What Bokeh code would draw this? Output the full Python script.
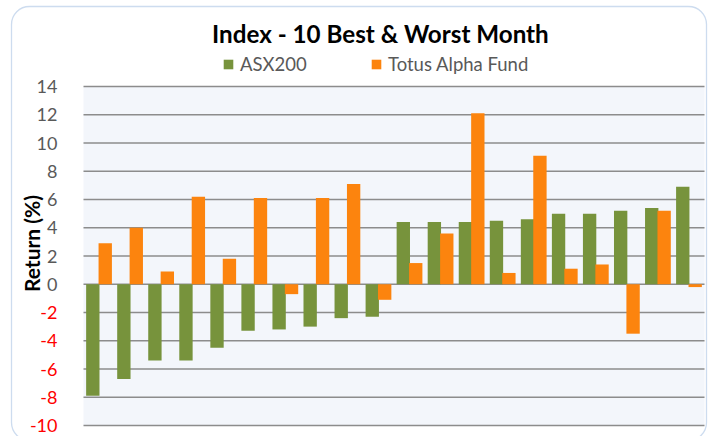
from bokeh.plotting import figure
from bokeh.models import Range1d, Legend, LegendItem, BoxAnnotation, ColumnDataSource
from bokeh.transform import dodge
from bokeh.core.properties import value
from bokeh.embed import file_html
from bokeh.resources import INLINE

# ---- data ----
months = list(range(1, 21))
asx200 = [-7.9, -6.7, -5.4, -5.4, -4.5, -3.3, -3.2, -3.0, -2.4, -2.3,
          4.4, 4.4, 4.4, 4.5, 4.6, 5.0, 5.0, 5.2, 5.4, 6.9]
totus = [2.9, 4.0, 0.9, 6.2, 1.8, 6.1, -0.7, 6.1, 7.1, -1.1,
         1.5, 3.6, 12.1, 0.8, 9.1, 1.1, 1.4, -3.5, 5.2, -0.2]
y_ticks = list(range(-10, 15, 2))
series_names = ["ASX200", "Totus Alpha Fund"]
title_text = "Index - 10 Best & Worst Month"
y_title = "Return (%)"

GREEN = "#77933C"
ORANGE = "#FC840E"
FONT = "Lato"

# ---- layout (pixels in the figure canvas) ----
W, H = 708, 436
PL, PR, PT, PB = 83, 704, 86, 425          # plot-area box
X0, X1 = 0.5, len(months) + 0.5
Y0, Y1 = min(y_ticks), max(y_ticks)
sx = (PR - PL) / (X1 - X0)
sy = (PB - PT) / (Y1 - Y0)


def px_x(px):
    return X0 + (px - PL) / sx


def px_y(py):
    return Y1 - (py - PT) / sy


p = figure(width=W, height=H, output_backend="svg", toolbar_location=None,
           x_range=Range1d(px_x(0), px_x(W)), y_range=Range1d(px_y(H), px_y(0)),
           min_border=0)
p.background_fill_color = "white"
p.border_fill_color = "white"
p.outline_line_color = None
p.xaxis.visible = False
p.yaxis.visible = False
p.xgrid.visible = False
p.ygrid.visible = False

# plot area
p.quad(left=X0, right=X1, bottom=Y0, top=Y1, fill_color="#F3F6FB", line_color=None)
# gridlines
p.segment(x0=[X0] * len(y_ticks), x1=[X1] * len(y_ticks), y0=y_ticks, y1=y_ticks,
          line_color="#8C8C8C", line_width=1.6)

src = ColumnDataSource(dict(month=months, asx=asx200, totus=totus))
r1 = p.vbar(x=dodge("month", -0.2, range=p.x_range), top="asx", bottom=0,
            width=0.43, source=src, fill_color=GREEN, line_color=None)
r2 = p.vbar(x=dodge("month", 0.2, range=p.x_range), top="totus", bottom=0,
            width=0.43, source=src, fill_color=ORANGE, line_color=None)

# y tick labels
tick_src = ColumnDataSource(dict(
    y=y_ticks, text=[str(t) for t in y_ticks],
    color=["#FF0000" if t < 0 else "#595959" for t in y_ticks]))
p.text(x=px_x(57), y="y", text="text", source=tick_src, text_color="color",
       text_align="right", text_baseline="middle",
       text_font=value(FONT), text_font_size="18px")

# axis title
p.text(x=[px_x(31)], y=[px_y(243)], text=[y_title], angle=90, angle_units="deg",
       text_align="center", text_baseline="middle",
       text_font=value(FONT), text_font_size="21px", text_font_style="bold",
       text_color="black")

# chart title
p.text(x=[px_x(380)], y=[px_y(33)], text=[title_text],
       text_align="center", text_baseline="middle",
       text_font=value(FONT), text_font_size="24.2px", text_font_style="bold",
       text_color="black")

# legends
for rend, name, xpos in [(r1, series_names[0], 222), (r2, series_names[1], 370)]:
    lg = Legend(items=[LegendItem(label=name, renderers=[rend])],
                location=(xpos, H - 75), orientation="horizontal",
                padding=0, margin=0, spacing=0,
                glyph_width=12, glyph_height=12, label_height=20,
                label_standoff=6, label_text_font=FONT,
                label_text_font_size="18.5px", label_text_color="#595959",
                border_line_color=None, background_fill_alpha=0)
    p.add_layout(lg, "center")

# chart frame
p.add_layout(BoxAnnotation(left=px_x(11), right=px_x(706), top=px_y(6), bottom=px_y(440),
                           fill_color=None, line_color="#5B8BC9", line_width=1.3,
                           border_radius=18))

open("out.html", "w").write(file_html(p, INLINE))
